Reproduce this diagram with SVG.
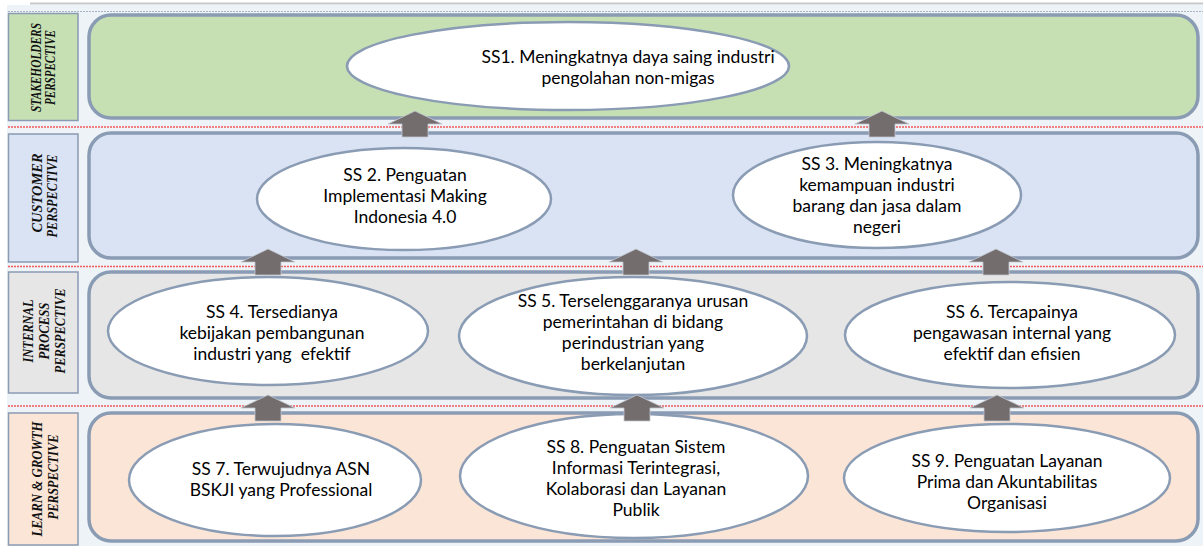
<svg xmlns="http://www.w3.org/2000/svg" width="1203" height="546" viewBox="0 0 1203 546">
<defs>
<style>
.bg{fill:#eef3f7}
.panel{stroke:#8a9bb4;stroke-width:3.5}
.lbl{stroke:#8a9bb4;stroke-width:1.5}
.red{stroke:#f05a5a;stroke-width:1.6;stroke-dasharray:2 1;fill:none}
.ell{fill:#ffffff;stroke:#8a9bb4;stroke-width:2.5}
.t{font-family:Lato,"Open Sans",sans-serif;font-size:17.5px;fill:#000;text-anchor:middle}
.v{font-family:"Liberation Serif","DejaVu Serif",serif;font-size:14px;font-weight:bold;font-style:italic;fill:#111;text-anchor:middle}
.arr{fill:#736d6e;stroke:#c4c8d0;stroke-width:0.8}
</style>
</defs>
<rect class="bg" x="7" y="5" width="1196" height="541"/>
<line x1="30" y1="3.5" x2="1203" y2="3.5" stroke="#c8c8c8" stroke-width="2"/>
<line x1="8" y1="11.5" x2="1203" y2="11.5" stroke="#a8b4c4" stroke-width="1.2" stroke-dasharray="2 1"/>
<line class="red" x1="8" y1="127" x2="1203" y2="127"/>
<line class="red" x1="8" y1="266.5" x2="1203" y2="266.5"/>
<line class="red" x1="8" y1="406" x2="1203" y2="406"/>

<g id="lane-stakeholders">
<rect class="panel" x="89" y="15" width="1109" height="103" rx="22" fill="#c6e0b4"/>
<rect class="lbl" x="8.5" y="13.5" width="69.5" height="107" fill="#c6e0b4"/>
<text class="v" transform="translate(41,67.5) rotate(-90)" textLength="89" lengthAdjust="spacingAndGlyphs">STAKEHOLDERS</text>
<text class="v" transform="translate(55,67.5) rotate(-90)" textLength="75" lengthAdjust="spacingAndGlyphs">PERSPECTIVE</text>
</g>
<g id="lane-customer">
<rect class="panel" x="89" y="133" width="1109" height="125" rx="22" fill="#dae3f3"/>
<rect class="lbl" x="8.5" y="134" width="69.5" height="128" fill="#dae3f3"/>
<text class="v" transform="translate(42,193) rotate(-90)" textLength="79" lengthAdjust="spacingAndGlyphs">CUSTOMER</text>
<text class="v" transform="translate(57,196) rotate(-90)" textLength="83" lengthAdjust="spacingAndGlyphs">PERSPECTIVE</text>
</g>
<g id="lane-internal">
<rect class="panel" x="89" y="272" width="1109" height="126" rx="22" fill="#e6e6e6"/>
<rect class="lbl" x="8.5" y="272" width="69.5" height="121" fill="#e6e6e6"/>
<text class="v" transform="translate(33,331) rotate(-90)" textLength="63" lengthAdjust="spacingAndGlyphs">INTERNAL</text>
<text class="v" transform="translate(49,331) rotate(-90)" textLength="57" lengthAdjust="spacingAndGlyphs">PROCESS</text>
<text class="v" transform="translate(65,331) rotate(-90)" textLength="85" lengthAdjust="spacingAndGlyphs">PERSPECTIVE</text>
</g>
<g id="lane-learn">
<rect class="panel" x="89" y="413" width="1109" height="128" rx="22" fill="#fbe5d6"/>
<rect class="lbl" x="8.5" y="413" width="69.5" height="132" fill="#fbe5d6"/>
<text class="v" transform="translate(42,479) rotate(-90)" textLength="115" lengthAdjust="spacingAndGlyphs">LEARN &amp; GROWTH</text>
<text class="v" transform="translate(58,477) rotate(-90)" textLength="85" lengthAdjust="spacingAndGlyphs">PERSPECTIVE</text>
</g>

<g id="ss1">
<ellipse class="ell" cx="568" cy="66" rx="221" ry="44"/>
<text class="t" x="628" y="63">SS1. Meningkatnya daya saing industri</text>
<text class="t" x="628" y="84">pengolahan non-migas</text>
</g>
<g id="ss2">
<ellipse class="ell" cx="404" cy="199" rx="147" ry="51"/>
<text class="t" x="405" y="181">SS 2. Penguatan</text>
<text class="t" x="405" y="202">Implementasi Making</text>
<text class="t" x="405" y="223">Indonesia 4.0</text>
</g>
<g id="ss3">
<ellipse class="ell" cx="877" cy="195" rx="144" ry="53"/>
<text class="t" x="877" y="170">SS 3. Meningkatnya</text>
<text class="t" x="877" y="191">kemampuan industri</text>
<text class="t" x="877" y="212">barang dan jasa dalam</text>
<text class="t" x="877" y="233">negeri</text>
</g>
<g id="ss4">
<ellipse class="ell" cx="268" cy="331" rx="160" ry="54"/>
<text class="t" x="272" y="318">SS 4. Tersedianya</text>
<text class="t" x="272" y="339">kebijakan pembangunan</text>
<text class="t" x="272" y="360" xml:space="preserve">industri yang  efektif</text>
</g>
<g id="ss5">
<ellipse class="ell" cx="633" cy="336" rx="174" ry="59"/>
<text class="t" x="633" y="307">SS 5. Terselenggaranya urusan</text>
<text class="t" x="633" y="328">pemerintahan di bidang</text>
<text class="t" x="633" y="349">perindustrian yang</text>
<text class="t" x="633" y="370">berkelanjutan</text>
</g>
<g id="ss6">
<ellipse class="ell" cx="1010" cy="335" rx="165" ry="53"/>
<text class="t" x="1012" y="318">SS 6. Tercapainya</text>
<text class="t" x="1012" y="339">pengawasan internal yang</text>
<text class="t" x="1012" y="360">efektif dan efisien</text>
</g>
<g id="ss7">
<ellipse class="ell" cx="275" cy="480" rx="146" ry="56"/>
<text class="t" x="281" y="475">SS 7. Terwujudnya ASN</text>
<text class="t" x="281" y="496">BSKJI yang Professional</text>
</g>
<g id="ss8">
<ellipse class="ell" cx="634" cy="476" rx="174" ry="62"/>
<text class="t" x="636" y="453">SS 8. Penguatan Sistem</text>
<text class="t" x="636" y="474">Informasi Terintegrasi,</text>
<text class="t" x="636" y="495">Kolaborasi dan Layanan</text>
<text class="t" x="636" y="516">Publik</text>
</g>
<g id="ss9">
<ellipse class="ell" cx="1007" cy="478" rx="163" ry="54"/>
<text class="t" x="1007" y="467">SS 9. Penguatan Layanan</text>
<text class="t" x="1007" y="488">Prima dan Akuntabilitas</text>
<text class="t" x="1007" y="509">Organisasi</text>
</g>

<g id="connectors">
<polygon class="arr" points="415,111 442,124 428,124 428,137 402,137 402,124 388,124"/>
<polygon class="arr" points="882,111 909,124 895,124 895,137 869,137 869,124 855,124"/>
<polygon class="arr" points="268,249 295,262 281,262 281,275 255,275 255,262 241,262"/>
<polygon class="arr" points="636,249 663,262 649,262 649,275 623,275 623,262 609,262"/>
<polygon class="arr" points="996,249 1023,262 1009,262 1009,275 983,275 983,262 969,262"/>
<polygon class="arr" points="268,395 295,408 281,408 281,421 255,421 255,408 241,408"/>
<polygon class="arr" points="637,395 664,408 650,408 650,421 624,421 624,408 610,408"/>
<polygon class="arr" points="997,395 1024,408 1010,408 1010,421 984,421 984,408 970,408"/>
</g>
</svg>
